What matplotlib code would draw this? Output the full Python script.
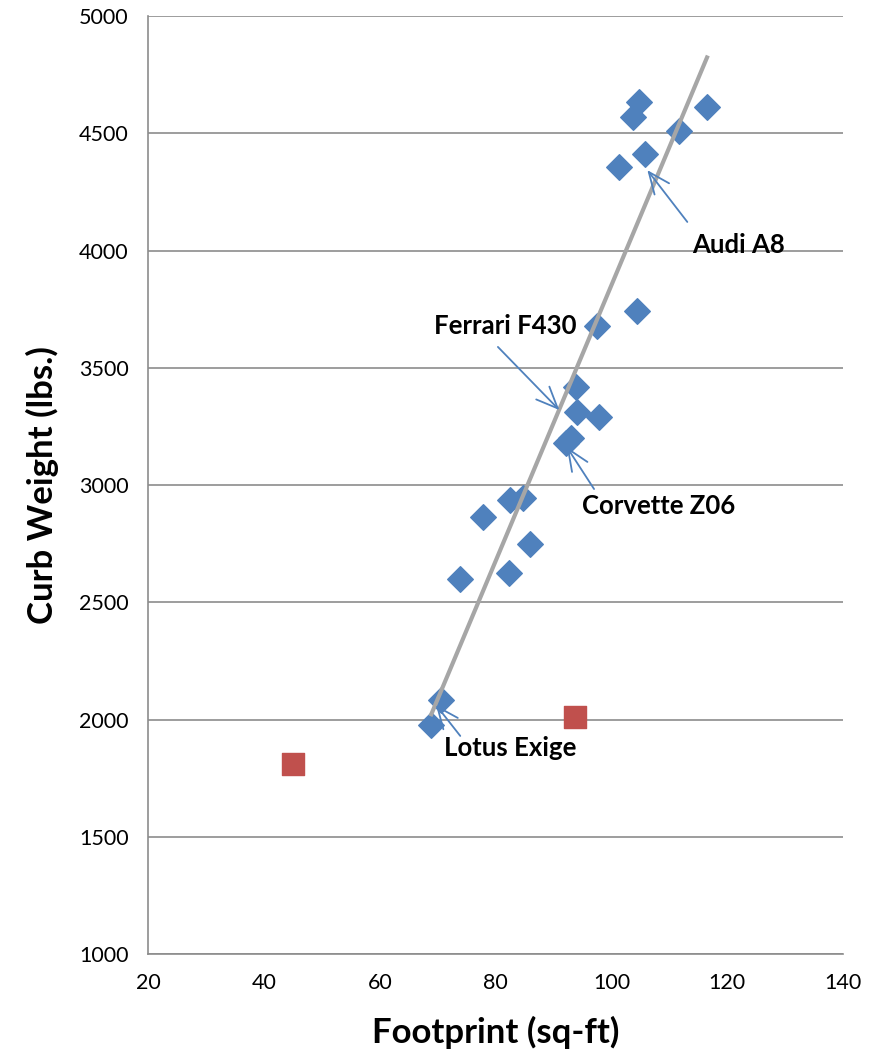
import numpy as np
import matplotlib.pyplot as plt

plt.rcParams['font.family'] = ['Lato', 'DejaVu Sans']

# blue cars (footprint sq-ft, curb weight lbs)
foot = [68.9, 70.6, 73.9, 77.8, 82.5, 84.7, 86.0, 82.3,
        93.8, 94.1, 97.9, 93.0, 92.2, 97.5, 104.4,
        104.8, 103.7, 116.5, 111.7, 105.8, 101.3]
weight = [1977, 2083, 2599, 2864, 2936, 2945, 2748, 2625,
          3418, 3311, 3290, 3200, 3179, 3678, 3742,
          4633, 4569, 4612, 4510, 4412, 4356]

# red outliers
out_foot = [45.0, 93.7]
out_weight = [1810, 2011]

# callouts: text, text centre, arrow tail, arrow head
labels = ['Audi A8', 'Ferrari F430', 'Corvette Z06', 'Lotus Exige']
label_txt = [(121.9, 4023), (81.6, 3678), (108.2, 2910), (82.5, 1878)]
arrow_tail = [(113.1, 4122), (80.4, 3589), (97.0, 2983), (73.9, 1930)]
arrow_head = [(106.2, 4343), (91.0, 3320), (92.3, 3162), (69.7, 2062)]

fig = plt.figure(figsize=(8.71, 10.58), dpi=100)
ax = fig.add_axes([0.170, 0.0983, 0.798, 0.8865])

blue = '#4F81BD'
ax.scatter(out_foot, out_weight, marker='s', s=230, color='#C0504D', zorder=3)
ax.scatter(foot, weight, marker='D', s=170, color=blue, zorder=3)

# linear trendline over the blue points
k, b = np.polyfit(foot, weight, 1)
xs = np.array([min(foot), max(foot)])
ax.plot(xs, k * xs + b, color='#A6A6A6', lw=3, zorder=4)

for t, q, tail, head in zip(labels, label_txt, arrow_tail, arrow_head):
    ax.text(q[0], q[1], t, fontsize=18.5, fontweight='bold',
            ha='center', va='center', zorder=5)
    ax.annotate('', xy=head, xytext=tail,
                arrowprops=dict(arrowstyle='->,head_length=0.7,head_width=0.3',
                                color=blue, lw=1.3, mutation_scale=22,
                                shrinkA=0, shrinkB=0),
                zorder=5)

ax.set_xlim(20, 140)
ax.set_ylim(1000, 5000)
ax.set_xticks(range(20, 141, 20))
ax.set_yticks(range(1000, 5001, 500))
ax.tick_params(length=0, labelsize=15.5, pad=14)
ax.yaxis.grid(True, color='#8C8C8C', lw=1.2)
ax.set_axisbelow(True)
for s in ['top', 'right']:
    ax.spines[s].set_visible(False)
for s in ['left', 'bottom']:
    ax.spines[s].set_color('#8C8C8C')
    ax.spines[s].set_linewidth(1.2)

ax.set_xlabel('Footprint (sq-ft)', fontsize=25, fontweight='bold', labelpad=16)
ax.set_ylabel('Curb Weight (lbs.)', fontsize=25, fontweight='bold', labelpad=14)

fig.savefig('out.png', dpi=100)
